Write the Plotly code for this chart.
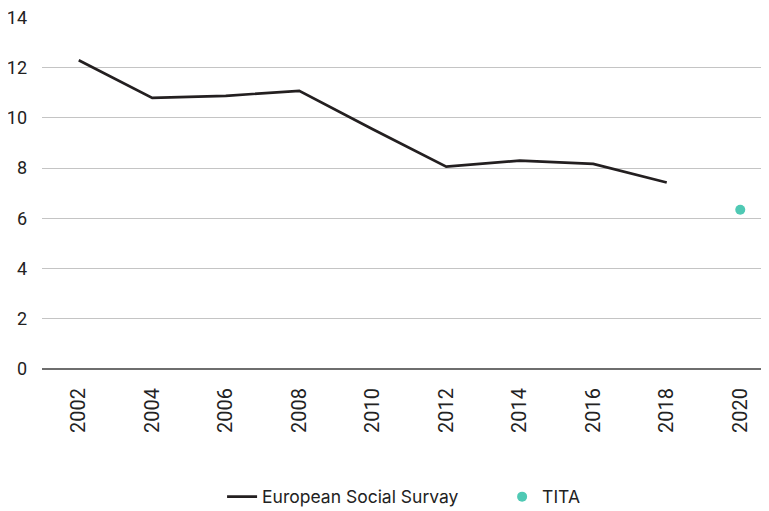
import plotly.graph_objects as go

years = ['2002', '2004', '2006', '2008', '2010', '2012', '2014', '2016', '2018', '2020']
ess_years = years[:9]
ess_values = [12.3, 10.8, 10.88, 11.08, 9.55, 8.06, 8.3, 8.17, 7.43]
tita_years = ['2020']
tita_values = [6.34]

fig = go.Figure()
fig.add_trace(go.Scatter(
    x=ess_years, y=ess_values, mode='lines', name='European Social Survay',
    line=dict(color='#231f20', width=2.7), legend='legend'
))
fig.add_trace(go.Scatter(
    x=tita_years, y=tita_values, mode='markers', name='TITA',
    marker=dict(color='#4fc9b4', size=10), legend='legend2'
))

legend_font = dict(family='Inter, sans-serif', size=17.5, color='#222222')

fig.update_layout(
    width=769, height=511,
    paper_bgcolor='white', plot_bgcolor='white',
    margin=dict(l=34, r=0, t=8.5, b=150),
    font=dict(family='Roboto, sans-serif', color='#222222', size=16),
    showlegend=True,
    legend=dict(orientation='h', x=0.245, xanchor='left', y=-0.363, yanchor='middle',
                font=legend_font),
    legend2=dict(orientation='h', x=0.626, xanchor='left', y=-0.363, yanchor='middle',
                 font=legend_font),
    xaxis=dict(type='category', categoryorder='array', categoryarray=years,
               range=[-0.5, 9.5], tickangle=-90, showgrid=False, automargin=False,
               showline=False, ticks='', ticklabelstandoff=14,
               tickfont=dict(size=20, color='#222222')),
    yaxis=dict(range=[0, 14.02], tickvals=[0, 2, 4, 6, 8, 10, 12, 14], showgrid=True,
               gridcolor='#c4c4c4', gridwidth=1.2, ticklabeloverflow='allow',
               zeroline=True, zerolinecolor='#6e6e6e', zerolinewidth=2, automargin=False,
               ticks='', ticklabelstandoff=14, tickfont=dict(size=18, color='#222222')),
)

fig.write_html("out.html")
